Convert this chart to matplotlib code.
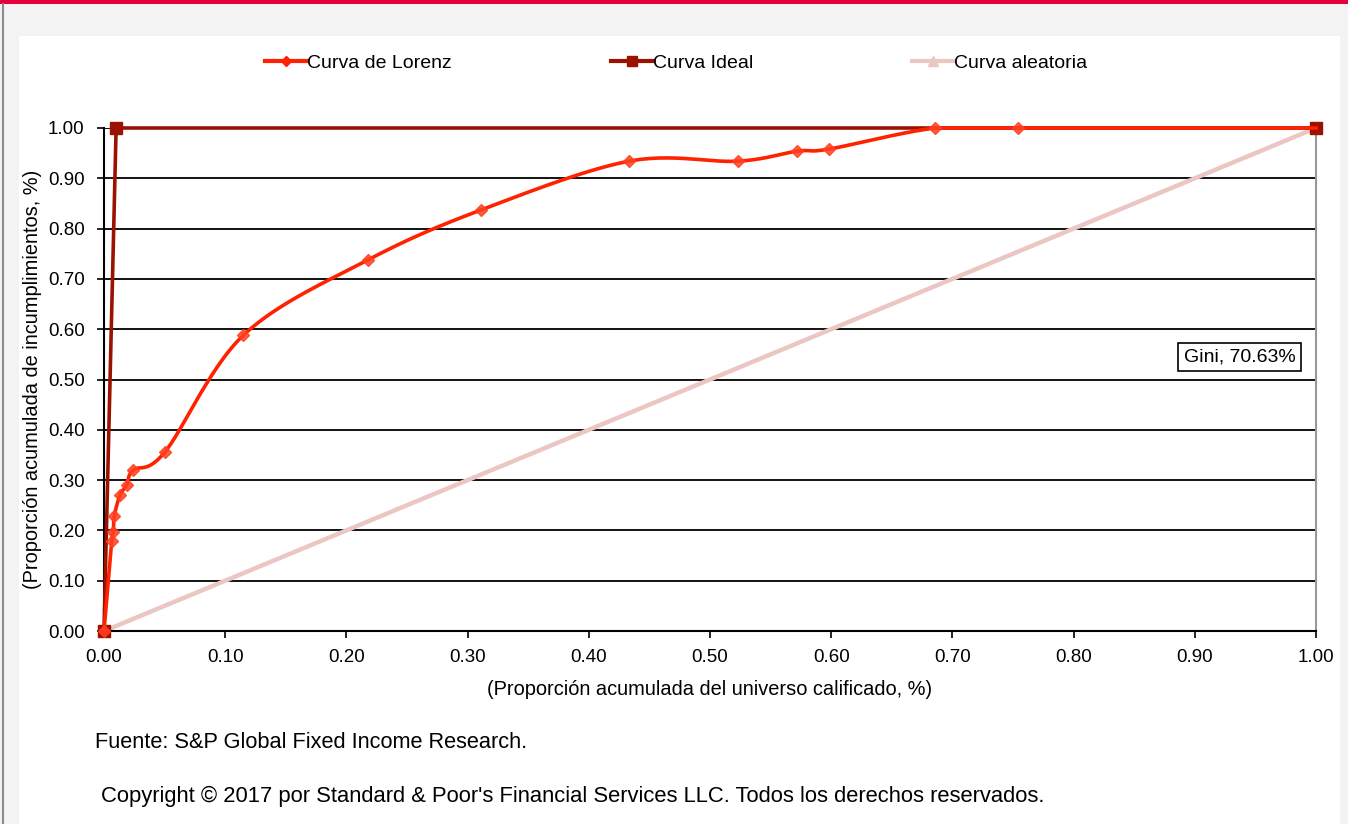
import numpy as np
import matplotlib.pyplot as plt
from matplotlib.patches import Rectangle
from matplotlib.lines import Line2D

plt.rcParams['font.family'] = ['Liberation Sans', 'DejaVu Sans']

# Curva de Lorenz (proporción acumulada del universo vs. incumplimientos)
lorenz_x = [0.0, 0.0063, 0.0077, 0.0085, 0.0132, 0.0187, 0.0242, 0.0503,
            0.115, 0.218, 0.311, 0.433, 0.523, 0.572, 0.598, 0.686, 0.754, 1.0]
lorenz_y = [0.0, 0.178, 0.197, 0.229, 0.270, 0.290, 0.320, 0.356,
            0.588, 0.738, 0.837, 0.934, 0.934, 0.954, 0.958, 1.0, 1.0, 1.0]
ideal_x = [0.0, 0.01, 1.0]
ideal_y = [0.0, 1.0, 1.0]
random_x = [0.0, 1.0]
random_y = [0.0, 1.0]
gini_label = 'Gini, 70.63%'

ticks = np.arange(0, 1.01, 0.1)


def smooth(x, y, n=30):
    # Catmull-Rom entre puntos consecutivos (línea suavizada)
    x = np.asarray(x, float)
    y = np.asarray(y, float)
    px = np.concatenate([[x[0]], x, [x[-1]]])
    py = np.concatenate([[y[0]], y, [y[-1]]])
    xs, ys = [], []
    t = np.linspace(0, 1, n)
    for i in range(1, len(px) - 2):
        p0, p1, p2, p3 = [np.array([px[j], py[j]]) for j in (i - 1, i, i + 1, i + 2)]
        c1 = p1 + (p2 - p0) / 6
        c2 = p2 - (p3 - p1) / 6
        pts = ((1 - t) ** 3)[:, None] * p1 + (3 * (1 - t) ** 2 * t)[:, None] * c1 \
            + (3 * (1 - t) * t ** 2)[:, None] * c2 + (t ** 3)[:, None] * p2
        xs.append(pts[:, 0])
        ys.append(pts[:, 1])
    return np.concatenate(xs), np.minimum(np.concatenate(ys), max(y))


fig = plt.figure(figsize=(13.48, 8.24), dpi=100)
fig.patch.set_facecolor('#f3f3f3')

# marco de la página
fig.patches.append(Rectangle((19 / 1348, 0), 1321 / 1348, 1 - 36 / 824,
                             transform=fig.transFigure, facecolor='white',
                             edgecolor='none', zorder=0))
fig.patches.append(Rectangle((0, 1 - 4 / 824), 1, 4 / 824, transform=fig.transFigure,
                             facecolor='#e4003a', edgecolor='none', zorder=1))
fig.lines.append(Line2D([3 / 1348, 3 / 1348], [0, 1 - 4 / 824], transform=fig.transFigure,
                        color='#8a8a8a', lw=1.5))

ax = fig.add_axes([104 / 1348, 1 - 631 / 824, 1212 / 1348, 503 / 824])
ax.set_zorder(3)
ax.set_facecolor('white')
ax.set_xlim(0, 1)
ax.set_ylim(0, 1)

for v in ticks[1:]:
    ax.axhline(v, color='black', lw=1.3, zorder=1)

sx, sy = smooth(lorenz_x, lorenz_y)
ax.plot(random_x, random_y, color='#ebc6c3', lw=3.2, zorder=2,
        marker='^', ms=7, clip_on=False)
ax.plot(ideal_x, ideal_y, color='#9c1200', lw=2.6, zorder=3,
        marker='s', ms=8, clip_on=False)
ax.plot(sx, sy, color='#ff2200', lw=2.6, zorder=4, clip_on=False)
ax.plot(lorenz_x[:-1], lorenz_y[:-1], ls='none', marker='D', ms=6.5,
        color='#ff4020', alpha=0.85, zorder=5, clip_on=False)

ax.text(0.937, 0.544, gini_label, ha='center', va='center', fontsize=14,
        bbox=dict(boxstyle='square,pad=0.28', facecolor='white',
                  edgecolor='black', lw=1.2), zorder=6)

ax.set_xticks(ticks)
ax.set_yticks(ticks)
ax.set_xticklabels([f'{v:.2f}' for v in ticks], fontsize=13.5)
ax.set_yticklabels([f'{v:.2f}' for v in ticks], fontsize=13.5)
ax.tick_params(direction='out', length=5, width=1.2)
ax.tick_params(axis='x', pad=8)
ax.tick_params(axis='y', pad=9)
for s in ('left', 'bottom'):
    ax.spines[s].set_color('black')
    ax.spines[s].set_linewidth(1.5)
ax.spines['right'].set_color('#999999')
ax.spines['right'].set_linewidth(1.5)
ax.spines['top'].set_visible(False)

ax.set_xlabel('(Proporción acumulada del universo calificado, %)', fontsize=14.4, labelpad=10)
ax.set_ylabel('(Proporción acumulada de incumplimientos, %)', fontsize=14.4, labelpad=4)

handles = [
    Line2D([], [], color='#ff2200', lw=3, marker='D', ms=5),
    Line2D([], [], color='#9c1200', lw=3, marker='s', ms=7),
    Line2D([], [], color='#ebc6c3', lw=3, marker='^', ms=7),
]
leg = fig.legend(handles, ['Curva de Lorenz', 'Curva Ideal', 'Curva aleatoria'],
                 loc='center', bbox_to_anchor=(676 / 1348, 1 - 63 / 824), ncol=3,
                 frameon=False, fontsize=14, handlelength=2.15, handletextpad=0.0,
                 columnspacing=8.2)
leg.set_zorder(4)

fig.text(95 / 1348, 1 - 743 / 824, 'Fuente: S&P Global Fixed Income Research.',
         fontsize=15.7, va='center', zorder=4)
fig.text(101 / 1348, 1 - 796 / 824,
         "Copyright © 2017 por Standard & Poor's Financial Services LLC. Todos los derechos reservados.",
         fontsize=15.8, va='center', zorder=4)

fig.savefig('out.png', dpi=100)
